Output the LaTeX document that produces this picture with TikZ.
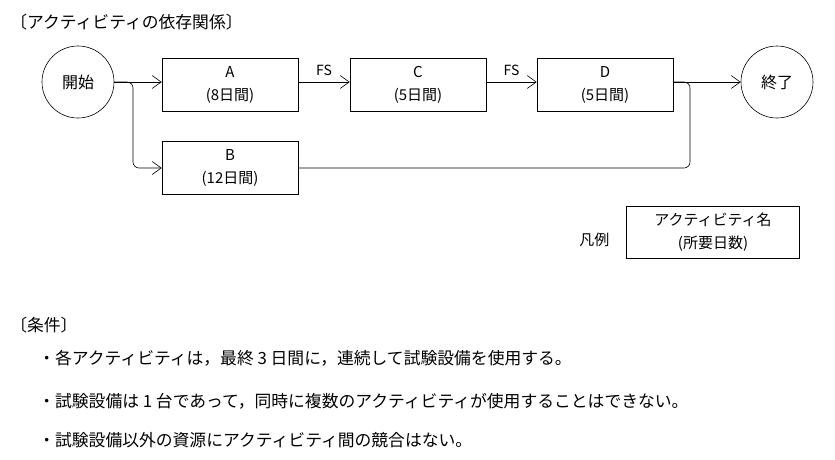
\documentclass[tikz,border=0pt]{standalone}
\usepackage{fontspec}
\setmainfont{Noto Sans CJK JP}
\usetikzlibrary{arrows.meta}

\begin{document}
\begin{tikzpicture}[x=1pt,y=-1pt,
            >={Straight Barb[length=9pt,width=13pt]},
            semithick,
            act/.style={draw,minimum width=136pt,minimum height=53pt,align=center,
                        font=\fontsize{15}{23}\selectfont},
            ev/.style={draw,circle,minimum size=72pt,font=\fontsize{16}{18}\selectfont},
            txt/.style={anchor=west,inner sep=0pt,font=\fontsize{16.8}{18}\selectfont}]
        \useasboundingbox (0,0) rectangle (835,459);

        \node[txt] (title) at (10,22) {〔アクティビティの依存関係〕};

        \node[ev]  (start) at (78,82)   {開始};
        \node[act] (A)     at (230,85)  {A\\(8日間)};
        \node[act] (C)     at (418,85)  {C\\(5日間)};
        \node[act] (D)     at (605,85)  {D\\(5日間)};
        \node[ev]  (end)   at (777,82)  {終了};
        \node[act] (B)     at (230,168) {B\\(12日間)};

        \coordinate (split) at (133,82);
        \coordinate (join)  at (690,82);

        \draw[->] (start.east) -- (A.west |- start.east);
        \draw[->,rounded corners=6pt] (start.east) -- (split) |- (B.west);
        \draw[->] (A.east |- start.east) -- node[above=3pt,font=\fontsize{14}{15}\selectfont] {FS} (C.west |- start.east);
        \draw[->] (C.east |- start.east) -- node[above=3pt,font=\fontsize{14}{15}\selectfont] {FS} (D.west |- start.east);
        \draw[->] (D.east |- start.east) -- (end.west);
        \draw[rounded corners=6pt] (B.east) -| (join) -- (D.east |- start.east);

        \node[act,minimum width=173pt,minimum height=52pt] (legend) at (713,232) {アクティビティ名\\(所要日数)};
        \node[font=\fontsize{15}{16}\selectfont,anchor=east] (lab) at (613,240) {凡例};

        \node[txt] (cond) at (10,325) {〔条件〕};
        \node[txt] (c1) at (38,358) {・各アクティビティは，最終 3 日間に，連続して試験設備を使用する。};
        \node[txt] (c2) at (38,401) {・試験設備は 1 台であって，同時に複数のアクティビティが使用することはできない。};
        \node[txt] (c3) at (38,440) {・試験設備以外の資源にアクティビティ間の競合はない。};
\end{tikzpicture}
\end{document}
